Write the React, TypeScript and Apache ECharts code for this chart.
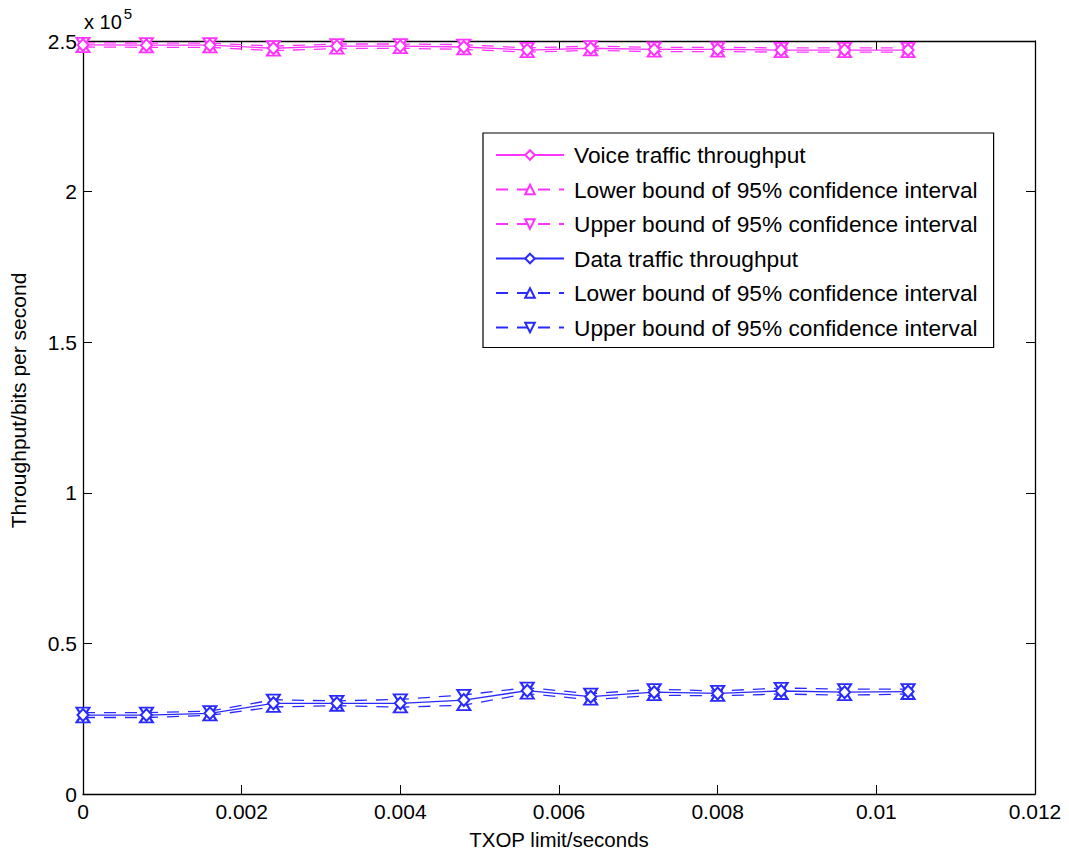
import React, { useEffect, useRef } from "react";
import * as echarts from "echarts";

const txop = [0, 0.0008, 0.0016, 0.0024, 0.0032, 0.004, 0.0048, 0.0056, 0.0064, 0.0072, 0.008, 0.0088, 0.0096, 0.0104];

const voiceMean = [248700, 248600, 248600, 247600, 248300, 248300, 248000, 247000, 247600, 247200, 247200, 247000, 247000, 247000];
const voiceLower = [248000, 247900, 247900, 246800, 247500, 247600, 247200, 246300, 246900, 246500, 246500, 246300, 246300, 246300];
const voiceUpper = [249400, 249300, 249300, 248300, 249000, 249000, 248800, 247700, 248300, 247900, 247900, 247700, 247700, 247700];

const dataMean = [26200, 26200, 26800, 30100, 30100, 30100, 31200, 34300, 32300, 33800, 33400, 34200, 33800, 34000];
const dataLower = [25400, 25400, 26100, 28900, 29300, 28800, 29500, 33300, 31300, 32800, 32600, 33200, 32800, 33200];
const dataUpper = [27000, 27000, 27500, 31300, 30900, 31400, 32900, 35300, 33300, 34800, 34200, 35200, 34800, 34800];

const xTicks = ["0", "0.002", "0.004", "0.006", "0.008", "0.01", "0.012"];
const yTicks = ["0", "0.5", "1", "1.5", "2", "2.5"];

const MAGENTA = "#ff33ff";
const BLUE = "#2a2aff";
const FONT = "'Liberation Sans', Arial, Helvetica, sans-serif";

function pairs(ys: number[]) {
  return txop.map((x, i) => [x, ys[i]]);
}

function mk(name: string, ys: number[], color: string, kind: "mean" | "lower" | "upper") {
  const symbol = kind === "mean" ? "emptyDiamond" : "emptyTriangle";
  return {
    type: "line",
    name,
    data: pairs(ys),
    symbol,
    symbolSize: kind === "mean" ? [11, 12] : [13, 10],
    symbolRotate: kind === "upper" ? 180 : 0,
    showAllSymbol: true,
    lineStyle: { color, width: 1.3, type: kind === "mean" ? "solid" : [12, 9] },
    itemStyle: { color, borderColor: color, borderWidth: 1.3 },
    emphasis: { disabled: true },
    z: kind === "mean" ? 3 : 2,
  };
}

export default function App() {
  const ref = useRef<HTMLDivElement>(null);
  useEffect(() => {
    if (!ref.current) return;
    const chart = echarts.init(ref.current, undefined, { renderer: "svg" });
    const axisCommon = {
      axisLine: { show: true, onZero: false, lineStyle: { color: "#000", width: 1.3 } },
      axisTick: { show: true, inside: true, length: 9, lineStyle: { color: "#000", width: 1 } },
      splitLine: { show: false },
    };
    chart.setOption({
      animation: false,
      backgroundColor: "#fff",
      textStyle: { fontFamily: FONT },
      grid: { left: 83, right: 34, top: 41, bottom: 58, containLabel: false, outerBoundsMode: "none" },
      xAxis: [
        {
          type: "value",
          min: 0,
          max: 0.012,
          interval: 0.002,
          position: "bottom",
          ...axisCommon,
          axisLabel: {
            color: "#000",
            fontSize: 21,
            fontFamily: FONT,
            margin: 7,
            formatter: (v: number) => xTicks[Math.round(v / 0.002)] ?? "",
          },
          name: "TXOP limit/seconds",
          nameLocation: "middle",
          nameGap: 35,
          nameTextStyle: { color: "#000", fontSize: 20.5, lineHeight: 20, fontFamily: FONT },
        },
        {
          type: "value",
          min: 0,
          max: 0.012,
          interval: 0.002,
          position: "top",
          ...axisCommon,
          axisLabel: { show: false },
        },
      ],
      yAxis: [
        {
          type: "value",
          min: 0,
          max: 250000,
          interval: 50000,
          position: "left",
          ...axisCommon,
          axisLabel: {
            color: "#000",
            fontSize: 21,
            fontFamily: FONT,
            margin: 6,
            formatter: (v: number) => yTicks[Math.round(v / 50000)] ?? "",
          },
          name: "Throughput/bits per second",
          nameLocation: "middle",
          nameGap: 54,
          nameRotate: 90,
          nameTextStyle: { color: "#000", fontSize: 21, fontFamily: FONT, padding: [0, 0, 0, 34] },
        },
        {
          type: "value",
          min: 0,
          max: 250000,
          interval: 50000,
          position: "right",
          ...axisCommon,
          axisLabel: { show: false },
        },
      ],
      legend: {
        orient: "vertical",
        left: 483,
        top: 133,
        padding: [10, 16, 8, 12],
        itemWidth: 68,
        itemHeight: 12,
        itemGap: 10.5,
        backgroundColor: "#fff",
        borderColor: "#000",
        borderWidth: 1.2,
        borderRadius: 0,
        selectedMode: false,
        textStyle: {
          color: "#000",
          fontSize: 22.7,
          lineHeight: 24,
          fontFamily: FONT,
          padding: [0, 0, 0, 5],
        },
        formatter: (name: string) => name.replace(/\s+$/, ""),
        data: [
          "Voice traffic throughput",
          "Lower bound of 95% confidence interval",
          "Upper bound of 95% confidence interval",
          "Data traffic throughput",
          "Lower bound of 95% confidence interval ",
          "Upper bound of 95% confidence interval ",
        ],
      },
      graphic: [
        {
          type: "text",
          left: 84,
          top: 6,
          style: {
            text: "{a|x 10}{b|5}",
            rich: {
              a: { fontSize: 20, fontFamily: FONT, fill: "#000", padding: [8, 0, 0, 0] },
              b: { fontSize: 15, fontFamily: FONT, fill: "#000", padding: [0, 0, 8, 2] },
            },
          },
        },
      ],
      series: [
        mk("Voice traffic throughput", voiceMean, MAGENTA, "mean"),
        mk("Lower bound of 95% confidence interval", voiceLower, MAGENTA, "lower"),
        mk("Upper bound of 95% confidence interval", voiceUpper, MAGENTA, "upper"),
        mk("Data traffic throughput", dataMean, BLUE, "mean"),
        mk("Lower bound of 95% confidence interval ", dataLower, BLUE, "lower"),
        mk("Upper bound of 95% confidence interval ", dataUpper, BLUE, "upper"),
      ],
    });
    return () => chart.dispose();
  }, []);
  return (
    <div
      ref={ref}
      style={{ position: "fixed", left: 0, top: 0, width: 1069, height: 852, background: "#fff" }}
    />
  );
}
